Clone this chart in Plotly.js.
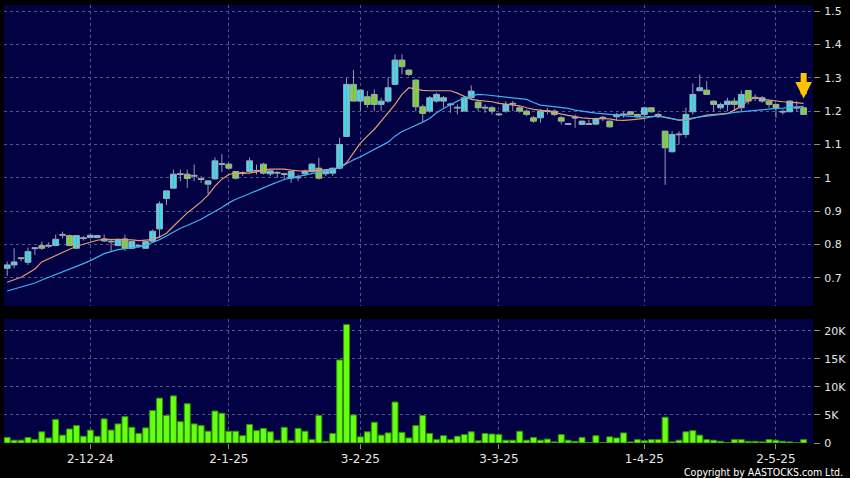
<!DOCTYPE html>
<html><head><meta charset="utf-8">
<script src="https://cdn.plot.ly/plotly-3.0.1.min.js"></script>
<style>html,body{margin:0;padding:0;background:#000;}#chart{width:850px;height:478px;}</style>
</head><body><div id="chart"></div>
<script>
var dates = [
'2024-11-14','2024-11-15','2024-11-18','2024-11-19','2024-11-20','2024-11-21','2024-11-22','2024-11-25','2024-11-26','2024-11-27','2024-11-28','2024-11-29',
'2024-12-02','2024-12-03','2024-12-04','2024-12-05','2024-12-06','2024-12-09','2024-12-10','2024-12-11','2024-12-12','2024-12-13','2024-12-16','2024-12-17','2024-12-18','2024-12-19','2024-12-20','2024-12-23','2024-12-24','2024-12-27','2024-12-30','2024-12-31',
'2025-01-02','2025-01-03','2025-01-06','2025-01-07','2025-01-08','2025-01-09','2025-01-10','2025-01-13','2025-01-14','2025-01-15','2025-01-16','2025-01-17','2025-01-20','2025-01-21','2025-01-22','2025-01-23','2025-01-24','2025-01-27','2025-01-28',
'2025-02-03','2025-02-04','2025-02-05','2025-02-06','2025-02-07','2025-02-10','2025-02-11','2025-02-12','2025-02-13','2025-02-14','2025-02-17','2025-02-18','2025-02-19','2025-02-20','2025-02-21','2025-02-24','2025-02-25','2025-02-26','2025-02-27','2025-02-28',
'2025-03-03','2025-03-04','2025-03-05','2025-03-06','2025-03-07','2025-03-10','2025-03-11','2025-03-12','2025-03-13','2025-03-14','2025-03-17','2025-03-18','2025-03-19','2025-03-20','2025-03-21','2025-03-24','2025-03-25','2025-03-26','2025-03-27','2025-03-28','2025-03-31',
'2025-04-01','2025-04-02','2025-04-03','2025-04-07','2025-04-08','2025-04-09','2025-04-10','2025-04-11','2025-04-14','2025-04-15','2025-04-16','2025-04-17','2025-04-22','2025-04-23','2025-04-24','2025-04-25','2025-04-28','2025-04-29','2025-04-30',
'2025-05-02','2025-05-06','2025-05-07','2025-05-08','2025-05-09'];

var openP = [.729,.739,.760,.747,.788,.797,.795,.797,.828,.827,.789,.818,.821,.821,.817,.810,.797,.817,.789,.795,.789,.810,.847,.938,.969,1.010,1.011,1.005,.995,.981,
.997,1.040,1.041,1.019,1.013,1.019,1.020,1.041,1.012,1.014,1.010,.999,1.000,1.012,1.019,1.029,1.012,1.014,1.029,1.124,
1.280,1.230,1.243,1.250,1.220,1.230,1.280,1.353,1.323,1.293,1.213,1.200,1.230,1.230,1.219,1.209,1.200,1.240,1.227,1.209,
1.210,1.189,1.200,1.221,1.210,1.200,1.180,1.180,1.199,1.200,1.180,1.160,1.179,1.160,1.160,1.161,1.179,1.170,1.183,1.189,
1.198,1.190,1.190,1.210,1.190,1.140,1.078,1.129,1.130,1.198,1.261,1.263,1.230,1.210,1.220,1.230,1.210,1.262,1.239,1.230,
1.230,1.220,1.197,1.198,1.209,1.210];
var highP = [.749,.789,.761,.791,.792,.809,.807,.830,.839,.830,.829,.826,.829,.828,.830,.816,.818,.830,.811,.800,.812,.845,.930,.961,1.025,1.025,1.025,1.040,1.005,.991,
1.061,1.071,1.045,1.020,1.020,1.061,1.040,1.045,1.025,1.020,1.015,1.022,1.010,1.025,1.045,1.060,1.025,1.030,1.120,1.300,
1.323,1.265,1.260,1.265,1.240,1.300,1.370,1.370,1.325,1.295,1.220,1.245,1.255,1.245,1.225,1.220,1.245,1.277,1.235,1.220,
1.215,1.195,1.230,1.230,1.215,1.205,1.185,1.205,1.210,1.205,1.185,1.165,1.190,1.172,1.175,1.180,1.185,1.172,1.195,1.198,
1.200,1.192,1.212,1.212,1.195,1.140,1.140,1.140,1.210,1.283,1.310,1.290,1.232,1.225,1.240,1.240,1.262,1.262,1.250,1.245,
1.232,1.222,1.205,1.232,1.230,1.212];
var lowP = [.706,.729,.750,.739,.769,.784,.790,.795,.818,.795,.787,.812,.819,.819,.808,.781,.795,.781,.786,.790,.787,.805,.820,.919,.969,.990,.970,.990,.985,.952,
.995,1.018,1.025,.995,1.005,1.015,1.010,1.010,1.005,1.000,.995,.985,.990,1.005,1.015,.995,1.005,1.005,1.025,1.124,
1.230,1.200,1.210,1.200,1.200,1.225,1.280,1.310,1.305,1.200,1.168,1.195,1.225,1.210,1.195,1.190,1.200,1.235,1.200,1.195,
1.190,1.185,1.195,1.200,1.195,1.185,1.165,1.165,1.190,1.185,1.160,1.158,1.150,1.158,1.158,1.158,1.170,1.150,1.170,1.180,
1.190,1.180,1.185,1.195,1.180,.979,1.078,1.100,1.120,1.190,1.261,1.250,1.200,1.205,1.200,1.200,1.200,1.220,1.230,1.225,
1.210,1.180,1.190,1.198,1.200,1.190];
var closeP = [.739,.748,.758,.779,.790,.789,.797,.816,.830,.797,.827,.820,.828,.827,.811,.808,.816,.789,.809,.797,.809,.840,.922,.961,1.011,1.012,.998,1.007,.997,.991,
1.051,1.042,1.029,.999,1.015,1.051,1.022,1.014,1.021,1.016,1.012,1.019,1.002,1.021,1.041,.999,1.021,1.029,1.100,1.280,
1.230,1.263,1.220,1.220,1.230,1.270,1.353,1.333,1.310,1.213,1.193,1.240,1.250,1.240,1.221,1.211,1.240,1.260,1.210,1.211,
1.200,1.191,1.220,1.223,1.200,1.190,1.170,1.200,1.201,1.190,1.170,1.162,1.181,1.170,1.162,1.178,1.181,1.153,1.190,1.191,
1.190,1.183,1.210,1.198,1.183,1.090,1.130,1.131,1.190,1.250,1.270,1.250,1.220,1.220,1.230,1.220,1.250,1.230,1.241,1.240,
1.220,1.210,1.199,1.230,1.211,1.190];

var maShort = [.687,.694,.702,.714,.727,.748,.758,.766,.777,.786,.795,.801,.807,.813,.816,.816,.816,.815,.814,.812,.813,.815,.823,.834,.855,.876,.895,.911,.928,.948,
.975,.996,1.010,1.014,1.014,1.014,1.018,1.024,1.026,1.026,1.026,1.023,1.020,1.019,1.021,1.022,1.024,1.026,1.030,1.045,
1.075,1.104,1.125,1.145,1.170,1.195,1.220,1.250,1.270,1.266,1.262,1.261,1.261,1.261,1.261,1.254,1.245,1.235,1.232,1.231,
1.228,1.223,1.221,1.219,1.216,1.210,1.205,1.203,1.200,1.196,1.191,1.187,1.184,1.180,1.178,1.178,1.178,1.177,1.173,1.172,
1.174,1.176,1.178,1.183,1.186,1.181,1.176,1.173,1.175,1.178,1.183,1.188,1.190,1.192,1.193,1.203,1.215,1.232,1.240,1.236,
1.233,1.230,1.228,1.227,1.225,1.223];
var maLong = [.661,.667,.673,.679,.685,.694,.702,.709,.717,.725,.733,.743,.752,.763,.773,.779,.785,.788,.790,.793,.798,.806,.815,.826,.838,.849,.857,.866,.876,.888,
.899,.911,.925,.936,.944,.952,.961,.970,.979,.987,.995,1.000,1.004,1.008,1.012,1.016,1.020,1.024,1.030,1.042,
1.054,1.063,1.074,1.085,1.096,1.107,1.125,1.139,1.148,1.157,1.167,1.178,1.195,1.208,1.220,1.230,1.240,1.246,1.250,1.249,
1.247,1.244,1.242,1.240,1.238,1.235,1.226,1.218,1.216,1.214,1.212,1.208,1.203,1.199,1.197,1.194,1.192,1.190,1.187,1.185,
1.184,1.183,1.183,1.184,1.185,1.182,1.177,1.173,1.172,1.177,1.183,1.185,1.187,1.188,1.192,1.196,1.198,1.201,1.204,1.206,
1.207,1.208,1.209,1.210,1.212,1.214];

var volumeK = [1.0,0.5,0.5,1.0,0.6,2.0,0.9,4.2,1.4,2.5,3.1,1.2,2.3,1.2,4.3,2.3,3.4,4.7,2.8,1.7,2.7,5.8,8.0,4.9,8.4,3.8,7.0,3.4,3.1,2.1,
5.7,5.3,2.1,2.1,1.3,3.3,2.2,2.6,2.0,0.5,2.8,0.4,2.6,2.1,0.6,4.9,0.3,1.7,14.8,21.1,
5.0,1.1,2.0,3.7,1.4,1.8,7.3,1.9,0.9,3.1,4.9,1.7,0.6,1.3,0.6,1.2,1.5,2.0,0.4,1.7,
1.6,1.5,0.5,0.5,2.1,0.5,1.0,0.5,0.7,0.2,1.5,0.5,0.3,1.0,0.1,1.3,0.1,1.1,0.9,1.8,
0.2,0.6,0.4,0.6,0.6,4.6,0.2,0.5,2.0,2.2,1.4,0.6,0.5,0.3,0.1,0.6,0.6,0.3,0.3,0.2,
0.6,0.5,0.3,0.2,0.05,0.6];

var tickDates = ['2024-12-02','2025-01-02','2025-02-03','2025-03-03','2025-04-01','2025-05-02'];
var tickLabels = ['2-12-24','2-1-25','3-2-25','3-3-25','1-4-25','2-5-25'];
var priceTicks = [0.7,0.8,0.9,1.0,1.1,1.2,1.3,1.4,1.5];
var priceLabels = ['0.7','0.8','0.9','1','1.1','1.2','1.3','1.4','1.5'];
var volTicks = [0,5,10,15,20];
var volLabels = ['0','5K','10K','15K','20K'];

// candle bodies and wicks built from the OHLC arrays
var UP = '#2fe4f0', DOWN = '#72e01e';
var bodyBase = [], bodyLen = [], bodyCol = [];
var wickX = [], wickY = [];
for (var i = 0; i < dates.length; i++) {
  var lo = Math.min(openP[i], closeP[i]), hi = Math.max(openP[i], closeP[i]);
  bodyBase.push(lo);
  bodyLen.push(Math.max(hi - lo, 0.0025));
  bodyCol.push(closeP[i] >= openP[i] ? UP : DOWN);
  wickX.push(dates[i], dates[i], null);
  wickY.push(highP[i], lowP[i], null);
}

var gridCol = '#55557f';
var fam = 'DejaVu Sans, Verdana, sans-serif';
var tickFont = {family:fam, size:11, color:'#e6e6e6'};

var traces = [
  {type:'bar', x:dates, y:volumeK, xaxis:'x', yaxis:'y', width:0.86,
   marker:{color:'#66ff11', line:{color:'#2f8f00', width:1}}, hoverinfo:'skip'},
  {type:'scatter', mode:'lines', x:wickX, y:wickY, xaxis:'x', yaxis:'y2', connectgaps:false,
   line:{color:'#9a9aae', width:1}, hoverinfo:'skip'},
  {type:'bar', x:dates, y:bodyLen, base:bodyBase, xaxis:'x', yaxis:'y2', width:0.84,
   marker:{color:bodyCol, line:{color:'#a9a9bb', width:1}}, hoverinfo:'skip'},
  {type:'scatter', mode:'lines', x:dates, y:maShort, xaxis:'x', yaxis:'y2',
   line:{color:'#e69a70', width:1.2}, hoverinfo:'skip'},
  {type:'scatter', mode:'lines', x:dates, y:maLong, xaxis:'x', yaxis:'y2',
   line:{color:'#3fb2ee', width:1.2}, hoverinfo:'skip'}
];

var layout = {
  width:850, height:478,
  paper_bgcolor:'#000000', plot_bgcolor:'#010144',
  margin:{l:4, r:37, t:5, b:35},
  showlegend:false,
  barmode:'overlay',
  xaxis:{type:'category', range:[-0.46, 116.35], tickvals:tickDates, ticktext:tickLabels,
    showgrid:true, gridcolor:gridCol, griddash:'3px,3px', gridwidth:1,
    ticks:'outside', ticklen:5, tickcolor:'#8a8a8a', tickfont:{family:fam, size:12, color:'#e6e6e6'},
    zeroline:false, showline:false, anchor:'y', fixedrange:true},
  yaxis:{domain:[0, 0.2831], range:[0, 22.1], side:'right', tickvals:volTicks, ticktext:volLabels,
    showgrid:true, gridcolor:gridCol, griddash:'3px,3px', zeroline:false, showline:false,
    ticks:'outside', ticklen:6, tickcolor:'#8a8a8a', ticklabelstandoff:2, tickfont:tickFont, anchor:'x', fixedrange:true},
  yaxis2:{domain:[0.3128, 1], range:[0.616, 1.518], side:'right', tickvals:priceTicks, ticktext:priceLabels,
    showgrid:true, gridcolor:gridCol, griddash:'3px,3px', zeroline:false, showline:false,
    ticks:'outside', ticklen:6, tickcolor:'#8a8a8a', ticklabelstandoff:2, tickfont:tickFont, anchor:'x', fixedrange:true},
  annotations:[
    {xref:'paper', yref:'paper', x:1.0396, y:-0.066, xanchor:'right', yanchor:'middle', showarrow:false,
     text:'Copyright by AASTOCKS.com Ltd.', font:{family:'DejaVu Sans Condensed, DejaVu Sans, sans-serif', size:10.5, color:'#ffffff'}},
    {xref:'x', yref:'y2', x:dates[dates.length-1], y:highP[highP.length-1] + 0.026, text:'', showarrow:true,
     ax:0, ay:-27, arrowhead:2, arrowsize:0.55, arrowwidth:6, arrowcolor:'#ffc400', standoff:0}
  ]
};

Plotly.newPlot('chart', traces, layout, {staticPlot:true, displayModeBar:false});
</script></body></html>
